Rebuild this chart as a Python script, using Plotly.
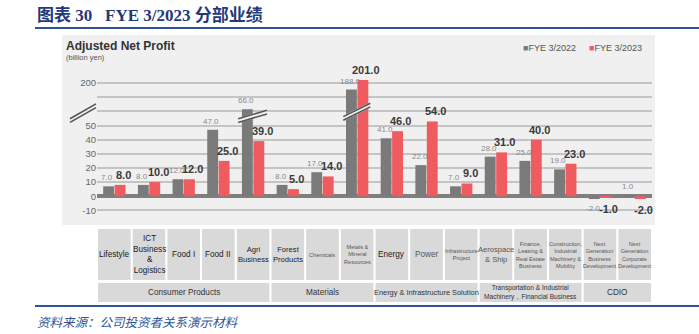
import plotly.graph_objects as go
import numpy as np

# ---------------- data ----------------
categories = ["Lifestyle", "ICT Business & Logistics", "Food I", "Food II", "Agri Business",
              "Forest Products", "Chemicals", "Metals & Mineral Resources", "Energy", "Power",
              "Infrastructure Project", "Aerospace & Ship",
              "Finance, Leasing & Real Estate Business",
              "Construction, Industrial Machinery & Mobility",
              "Next Generation Business Development", "Next Generation Corporate Development"]
cat_labels = ["Lifestyle", "ICT<br>Business<br>&<br>Logistics", "Food I", "Food II", "Agri<br>Business",
              "Forest<br>Products", "Chemicals", "Metals &<br>Mineral<br>Resources", "Energy", "Power",
              "Infrastructure<br>Project", "Aerospace<br>& Ship",
              "Finance,<br>Leasing &<br>Real Estate<br>Business",
              "Construction,<br>Industrial<br>Machinery &<br>Mobility",
              "Next<br>Generation<br>Business<br>Development",
              "Next<br>Generation<br>Corporate<br>Development"]
fye2022 = [7.0, 8.0, 12.0, 47.0, 66.0, 8.0, 17.0, 188.0, 41.0, 22.0, 7.0, 28.0, 25.0, 19.0, -2.0, 1.0]
fye2023 = [8.0, 10.0, 12.0, 25.0, 39.0, 5.0, 14.0, 201.0, 46.0, 54.0, 9.0, 31.0, 40.0, 23.0, -1.0, -2.0]
series_names = ["FYE 3/2022", "FYE 3/2023"]
groups = ["Consumer Products", "Materials", "Energy & Infrastructure Solution",
          "Transportation & Industrial<br>Machinery，Financial Business", "CDIO"]
group_spans = [(0, 4), (5, 7), (8, 10), (11, 13), (14, 15)]
ytick_values = [-10, 0, 10, 20, 30, 40, 50, 200]

title_text = "图表 30   FYE 3/2023 分部业绩"
chart_title = "Adjusted Net Profit"
unit_text = "(billion yen)"
source_text = "资料来源：公司投资者关系演示材料"

# broken-axis transform (values above 50 compressed)
break_in = [-50, 50, 66, 188, 200, 201, 300]
break_out = [-50, 50, 61.5, 75.5, 80.3, 82.3, 95]


def tr(v):
    return np.interp(np.asarray(v, dtype=float), break_in, break_out)


# ---------------- style ----------------
GRAY = "#7a7a7a"
RED = "#ef5b5f"
PANEL = "#f0f0f0"
BOX = "#d9d9d9"
NAVY = "#1f3a7a"
LINEBLUE = "#2f5597"
FONT = "Liberation Sans Narrow, Liberation Sans, Arial, sans-serif"

W, H = 699, 334
L, R, T, B = 97, 47, 69, 118
PW, PH = W - L - R, H - T - B


def px(p):
    return (p - L) / PW


def py(p):
    return (H - B - p) / PH


fig = go.Figure()
fig.add_trace(go.Bar(
    x=categories, y=tr(fye2022), customdata=fye2022, name=series_names[0],
    marker=dict(color=GRAY, line=dict(width=0)), hoverinfo="skip"))
fig.add_trace(go.Bar(
    x=categories, y=tr(fye2023), customdata=fye2023, name=series_names[1],
    marker=dict(color=RED, line=dict(width=0)), hoverinfo="skip"))

shapes = []
annotations = []

# value labels (gray slightly left, red slightly right, as in the reference)
for vals, xs, fnt, bold in ((fye2022, -7, dict(size=8, color="#8a8a8a", family=FONT), False),
                            (fye2023, 9, dict(size=11, color="#3a3a3a", family=FONT), True)):
    for c, v in zip(categories, vals):
        t = "%.1f" % v
        annotations.append(dict(x=c, xref="x", y=float(tr(v)), yref="y",
                                text="<b>%s</b>" % t if bold else t, showarrow=False,
                                xshift=xs, yshift=2 if v >= 0 else -3,
                                yanchor="bottom" if v >= 0 else "top", font=fnt))

# grey panel
shapes.append(dict(type="rect", xref="paper", yref="paper", x0=px(62), x1=px(655), y0=py(225), y1=py(35),
                   fillcolor=PANEL, line=dict(width=0), layer="below"))
# title line / footer line
shapes.append(dict(type="line", xref="paper", yref="paper", x0=px(35), x1=px(699), y0=py(28), y1=py(28),
                   line=dict(color=LINEBLUE, width=2)))
shapes.append(dict(type="line", xref="paper", yref="paper", x0=px(35), x1=px(699), y0=py(306), y1=py(306),
                   line=dict(color=LINEBLUE, width=2)))

# category boxes
small = {6, 7, 10, 12, 13, 14, 15}
for i, lab in enumerate(cat_labels):
    shapes.append(dict(type="rect", xref="x", yref="paper", x0=i - 0.47, x1=i + 0.47,
                       y0=py(280), y1=py(229), fillcolor=BOX, line=dict(width=0)))
    if i in small:
        fs = 5.6
    elif i in (4, 5, 11):
        fs = 7.6
    else:
        fs = 8.2
    annotations.append(dict(x=i, xref="x", y=py(254.5), yref="paper", text=lab, showarrow=False,
                            font=dict(size=fs,
                                      color="#555" if i in small or i in (9, 11) else "#222", family=FONT),
                            align="center", yanchor="middle"))
# group boxes
for g, (a, b) in zip(groups, group_spans):
    shapes.append(dict(type="rect", xref="x", yref="paper", x0=a - 0.47, x1=b + 0.47,
                       y0=py(302), y1=py(283), fillcolor=BOX, line=dict(width=0)))
    if "<br>" in g:
        fs = 6.6
    elif len(g) > 25:
        fs = 7.4
    else:
        fs = 8.2
    annotations.append(dict(x=(a + b) / 2, xref="x", y=py(292.5), yref="paper", text=g, showarrow=False,
                            font=dict(size=fs, color="#333", family=FONT),
                            align="center", yanchor="middle"))

# break marks
def brk(xref, x0, x1, y0, y1, color):
    out = [dict(type="line", xref=xref, yref="y", x0=x0, x1=x1, y0=y0, y1=y1,
                line=dict(color=PANEL, width=5))]
    for d in (-1.3, 1.3):
        out.append(dict(type="line", xref=xref, yref="y", x0=x0, x1=x1, y0=y0 + d, y1=y1 + d,
                        line=dict(color=color, width=1.6)))
    return out


shapes += brk("paper", px(70), px(96), 53.5, 64.0, "#555")
shapes += brk("x", 3.57, 4.4, 53.5, 59.5, "#555")
shapes += brk("x", 6.6, 7.38, 55.0, 64.5, "#555")

# titles
annotations.append(dict(x=px(35), y=py(15), xref="paper", yref="paper", xanchor="left", yanchor="middle",
                        text="<b>" + title_text + "</b>", showarrow=False,
                        font=dict(size=17, color=NAVY, family="Liberation Serif, Noto Sans CJK SC")))
annotations.append(dict(x=px(64), y=py(46), xref="paper", yref="paper", xanchor="left", yanchor="middle",
                        text="<b>" + chart_title + "</b>", showarrow=False,
                        font=dict(size=12, color="#333", family=FONT)))
annotations.append(dict(x=px(64), y=py(58), xref="paper", yref="paper", xanchor="left", yanchor="middle",
                        text=unit_text, showarrow=False,
                        font=dict(size=7.5, color="#555", family=FONT)))
annotations.append(dict(x=px(35), y=py(321), xref="paper", yref="paper", xanchor="left", yanchor="middle",
                        text="<i>" + source_text + "</i>", showarrow=False,
                        font=dict(size=12.5, color=LINEBLUE, family="Noto Sans CJK SC")))
# legend
for xp, name, col in ((521, series_names[0], GRAY), (587, series_names[1], RED)):
    annotations.append(dict(x=px(xp), y=py(48), xref="paper", yref="paper", xanchor="left", yanchor="middle",
                            text="<span style='color:%s'>■</span>%s" % (col, name), showarrow=False,
                            font=dict(size=9, color="#555", family=FONT)))

tickvals = list(tr(ytick_values[:-1])) + [60, 70, float(tr(ytick_values[-1]))]
ticktext = [str(v) for v in ytick_values[:-1]] + ["", "", str(ytick_values[-1])]

fig.update_layout(
    width=W, height=H, margin=dict(l=L, r=R, t=T, b=B, autoexpand=False),
    paper_bgcolor="white", plot_bgcolor="rgba(0,0,0,0)",
    barmode="group", bargap=0.34, bargroupgap=0.05, showlegend=False,
    shapes=shapes, annotations=annotations,
    xaxis=dict(showticklabels=False, showgrid=False, zeroline=False, showline=False, ticks="",
               range=[-0.5, len(categories) - 0.5]),
    yaxis=dict(range=[-14, 90], tickvals=tickvals, ticktext=ticktext, showgrid=True,
               gridcolor="#c4c4c4", gridwidth=1.5, zeroline=True, zerolinecolor="#7f7f7f",
               zerolinewidth=3.5, showline=False, ticks="",
               tickfont=dict(size=9.5, color="#666", family=FONT)),
    font=dict(family=FONT),
)
fig.write_html("out.html")
